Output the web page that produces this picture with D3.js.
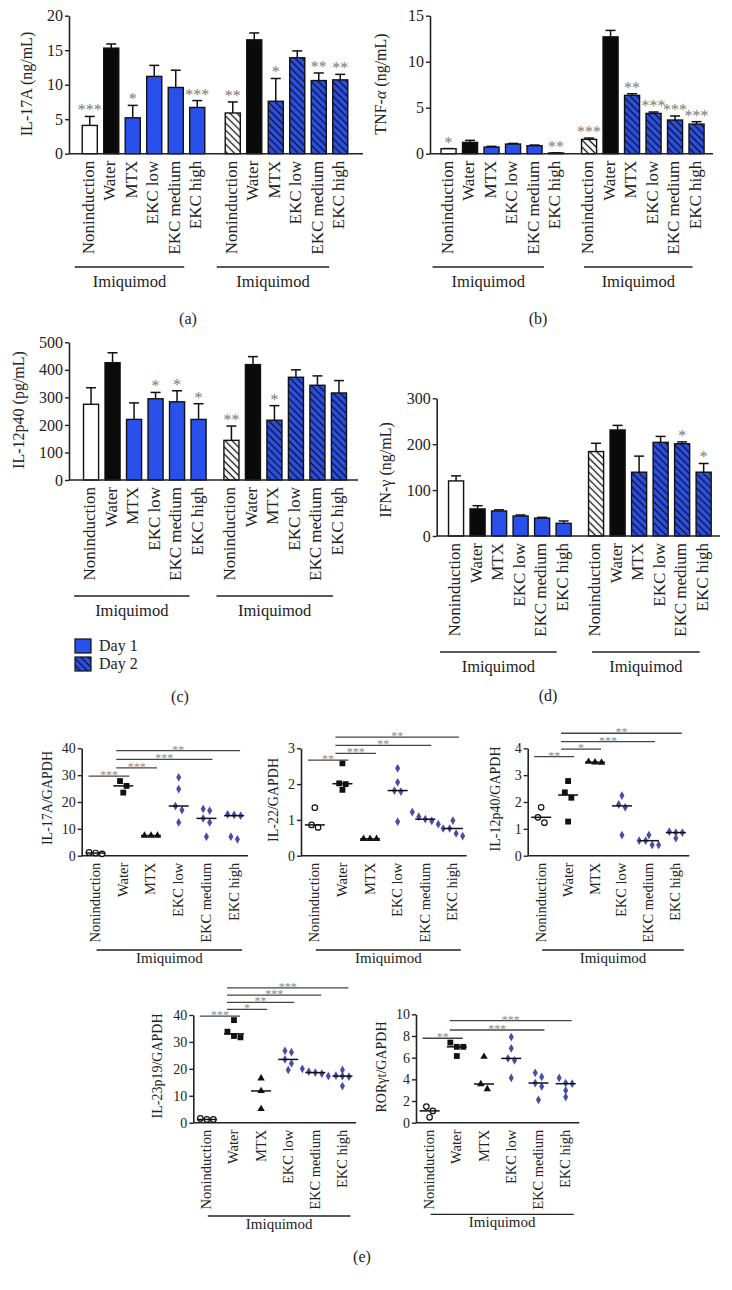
<!DOCTYPE html>
<html><head><meta charset="utf-8">
<script src="https://cdnjs.cloudflare.com/ajax/libs/d3/7.8.5/d3.min.js"></script>
<style>body{margin:0;background:#fff;} svg{display:block;}</style>
</head><body>
<svg id="fig" width="732" height="1290"></svg>
<script>
// ---------------- DATA ----------------
const categories = ["Noninduction", "Water", "MTX", "EKC low", "EKC medium", "EKC high"];
const days = ["Day 1", "Day 2"];
const groupLabel = "Imiquimod";

// (a) IL-17A (ng/mL)
const il17aDay1 = [4.1, 15.3, 5.2, 11.2, 9.6, 6.7];
const il17aDay1Sem = [1.3, 0.6, 1.8, 1.6, 2.5, 1.0];
const il17aDay2 = [5.9, 16.5, 7.6, 13.9, 10.6, 10.7];
const il17aDay2Sem = [1.6, 1.0, 3.3, 1.0, 1.1, 0.8];
const il17aDay1Stars = ["***", "", "*", "", "", "***"];
const il17aDay2Stars = ["**", "", "*", "", "**", "**"];
const il17aTicks = [0, 5, 10, 15, 20];

// (b) TNF-alpha (ng/mL)
const tnfDay1 = [0.54, 1.23, 0.72, 1.05, 0.87, 0.08];
const tnfDay1Sem = [0.02, 0.22, 0.08, 0.07, 0.07, 0.02];
const tnfDay2 = [1.56, 12.7, 6.34, 4.38, 3.66, 3.22];
const tnfDay2Sem = [0.14, 0.7, 0.18, 0.15, 0.44, 0.26];
const tnfDay1Stars = ["*", "", "", "", "", "**"];
const tnfDay2Stars = ["***", "", "**", "***", "***", "***"];
const tnfTicks = [0, 5, 10, 15];

// (c) IL-12p40 (pg/mL)
const il12Day1 = [275, 426, 220, 295, 284, 220];
const il12Day1Sem = [60, 36, 60, 23, 40, 57];
const il12Day2 = [144, 419, 217, 373, 344, 316];
const il12Day2Sem = [52, 29, 53, 27, 34, 45];
const il12Day1Stars = ["", "", "", "*", "*", "*"];
const il12Day2Stars = ["**", "", "*", "", "", ""];
const il12Ticks = [0, 100, 200, 300, 400, 500];

// (d) IFN-gamma (ng/mL)
const ifnDay1 = [120, 59, 54.5, 43.6, 39, 27.6];
const ifnDay1Sem = [11, 7, 2.5, 2.2, 1.7, 5.1];
const ifnDay2 = [184, 231, 139, 204, 201, 139];
const ifnDay2Sem = [18, 10, 35, 13, 4, 19];
const ifnDay1Stars = ["", "", "", "", "", ""];
const ifnDay2Stars = ["", "", "", "", "*", "*"];
const ifnTicks = [0, 100, 200, 300];

// (e) mRNA / GAPDH, one array of replicate values per category
const il17aGapdh = [[1.2, 1.0, 0.7], [27.8, 26.0, 23.5], [7.5, 7.5, 7.5], [29.2, 24.8, 18.5, 17.0, 12.4], [17.4, 16.8, 13.9, 12.4, 7.1], [15.4, 15.2, 14.9, 7.1, 6.1]];
const il17aGapdhTicks = [0, 10, 20, 30, 40];
const il17aSigFrom = ["Noninduction", "Water", "Water", "Water"];
const il17aSigTo = ["Water", "MTX", "EKC medium", "EKC high"];
const il17aSigLevel = [29.6, 32.7, 35.9, 39.1];
const il17aSigText = ["***", "***", "***", "**"];

const il22Gapdh = [[1.34, 0.86, 0.79], [2.58, 2.02, 2.0, 1.84], [0.47, 0.47, 0.47], [2.44, 2.05, 1.82, 1.79, 0.95], [1.22, 1.09, 1.02, 0.97, 0.88], [0.98, 0.76, 0.76, 0.62, 0.55]];
const il22GapdhTicks = [0, 1, 2, 3];
const il22SigFrom = ["Noninduction", "Water", "Water", "Water"];
const il22SigTo = ["Water", "MTX", "EKC medium", "EKC high"];
const il22SigLevel = [2.67, 2.86, 3.08, 3.31];
const il22SigText = ["**", "***", "**", "**"];

const il12Gapdh = [[1.8, 1.43, 1.23], [2.78, 2.36, 2.16, 1.27], [3.5, 3.48, 3.47], [2.24, 1.91, 1.8, 0.77], [0.77, 0.56, 0.56, 0.4, 0.4], [0.9, 0.86, 0.86, 0.65]];
const il12GapdhTicks = [0, 1, 2, 3, 4];
const il12SigFrom = ["Noninduction", "Water", "Water", "Water"];
const il12SigTo = ["Water", "MTX", "EKC medium", "EKC high"];
const il12SigLevel = [3.69, 3.97, 4.25, 4.56];
const il12SigText = ["**", "*", "***", "**"];

const il23Gapdh = [[1.6, 1.2, 1.2], [38.1, 33.8, 32.2, 31.7], [16.5, 11.8, 5.1], [26.7, 26.2, 23.5, 22.0, 19.6], [20.0, 19.0, 18.6, 18.2, 17.3], [19.6, 17.5, 17.3, 17.1, 13.6]];
const il23GapdhTicks = [0, 10, 20, 30, 40];
const il23SigFrom = ["Noninduction", "Water", "Water", "Water", "Water"];
const il23SigTo = ["Water", "MTX", "EKC low", "EKC medium", "EKC high"];
const il23SigLevel = [39.6, 42.1, 44.7, 47.4, 50.1];
const il23SigText = ["***", "*", "**", "***", "***"];

const rorGapdh = [[1.49, 1.09, 0.5], [7.39, 7.0, 7.0, 6.15], [6.09, 3.57, 3.1], [7.9, 6.86, 5.93, 5.75, 4.13], [4.6, 4.22, 3.66, 3.35, 2.11], [4.13, 3.66, 3.6, 2.98, 2.36]];
const rorGapdhTicks = [0, 2, 4, 6, 8, 10];
const rorSigFrom = ["Noninduction", "Water", "Water"];
const rorSigTo = ["Water", "EKC medium", "EKC high"];
const rorSigLevel = [7.79, 8.55, 9.41];
const rorSigText = ["**", "***", "***"];

// ---------------- STYLE ----------------
const SERIF = "'Liberation Serif','Times New Roman',serif";
const BLUE = "#2a50ec";
const DIAMOND = "#4a4ca6";
const STAR = "#7a7a7a";
const fmt = d3.format("~g");

const svg = d3.select("#fig");
svg.append("rect").attr("width", 732).attr("height", 1290).attr("fill", "#fff");
const defs = svg.append("defs");
function hatch(id, bg) {
  const p = defs.append("pattern").attr("id", id).attr("patternUnits", "userSpaceOnUse")
    .attr("width", 5).attr("height", 5).attr("patternTransform", "rotate(-45)");
  p.append("rect").attr("width", 5).attr("height", 5).attr("fill", bg);
  p.append("line").attr("x1", 2.5).attr("x2", 2.5).attr("y1", -1).attr("y2", 6)
    .attr("stroke", "#111").attr("stroke-width", 1.3);
}
hatch("hatchBlue", BLUE);
hatch("hatchWhite", "#fff");

function barFill(dayIndex, cat) {
  if (cat === "Water") return "#0a0a0a";
  if (cat === "Noninduction") return dayIndex === 0 ? "#fff" : "url(#hatchWhite)";
  return dayIndex === 0 ? BLUE : "url(#hatchBlue)";
}

function styleAxis(ax, size) {
  ax.attr("font-family", SERIF).attr("font-size", size);
  ax.select(".domain").attr("stroke", "#222").attr("stroke-width", 1.6);
  ax.selectAll(".tick line").attr("stroke", "#222").attr("stroke-width", 1.4);
  ax.selectAll(".tick text").attr("fill", "#222");
}

function yLabel(parts, x, y, size) {
  const t = svg.append("text").attr("transform", `translate(${x},${y}) rotate(-90)`)
    .attr("text-anchor", "middle").attr("font-family", SERIF).attr("font-size", size).attr("fill", "#222");
  parts.forEach(p => t.append("tspan").text(p.t).attr("font-style", p.i ? "italic" : null));
}

function panelLetter(txt, x, y) {
  svg.append("text").attr("x", x).attr("y", y).attr("text-anchor", "middle")
    .attr("font-family", SERIF).attr("font-size", 16).attr("fill", "#222").text(txt);
}

function bracket(x1, x2, yLine, yText, size) {
  svg.append("line").attr("x1", x1).attr("x2", x2).attr("y1", yLine).attr("y2", yLine)
    .attr("stroke", "#222").attr("stroke-width", 1.3);
  svg.append("text").attr("x", (x1 + x2) / 2).attr("y", yText).attr("text-anchor", "middle")
    .attr("font-family", SERIF).attr("font-size", size).attr("fill", "#222").text(groupLabel);
}

// ---------------- BAR PANELS ----------------
function drawBarPanel(cfg) {
  const g = svg.append("g");
  const y = d3.scaleLinear().domain([0, cfg.yMax]).range([cfg.y0, cfg.yTop]);
  const outer = d3.scaleBand().domain(days).range([cfg.axisX + cfg.padL, cfg.axisEnd - cfg.padR])
    .paddingInner(cfg.gap).paddingOuter(0);
  const inner = d3.scaleBand().domain(categories).range([0, outer.bandwidth()])
    .paddingInner(0.3).paddingOuter(0.15);
  const w = inner.bandwidth();
  const cx = (day, cat) => outer(day) + inner(cat) + w / 2;

  days.forEach((day, di) => {
    const vals = cfg.values[di], sems = cfg.sems[di], stars = cfg.stars[di];
    categories.forEach((cat, ci) => {
      const c = cx(day, cat);
      const top = y(vals[ci]);
      const et = y(vals[ci] + sems[ci]);
      g.append("line").attr("x1", c).attr("x2", c).attr("y1", top).attr("y2", et)
        .attr("stroke", "#111").attr("stroke-width", 1.5);
      g.append("line").attr("x1", c - 5).attr("x2", c + 5).attr("y1", et).attr("y2", et)
        .attr("stroke", "#111").attr("stroke-width", 1.5);
      g.append("rect").attr("x", c - w / 2).attr("y", top).attr("width", w).attr("height", cfg.y0 - top)
        .attr("fill", barFill(di, cat)).attr("stroke", "#111").attr("stroke-width", 1.4);
      if (stars[ci]) {
        g.append("text").attr("x", c).attr("y", et - 1).attr("text-anchor", "middle")
          .attr("font-family", SERIF).attr("font-size", 16).attr("fill", STAR).text(stars[ci]);
      }
      g.append("text").attr("transform", `translate(${c + 4},${cfg.y0 + 7}) rotate(-90)`)
        .attr("text-anchor", "end").attr("font-family", SERIF).attr("font-size", 17)
        .attr("fill", "#222").text(cat);
    });
    const off = cfg.bracketOff[di];
    bracket(cx(day, categories[0]) + off[0], cx(day, categories[5]) + off[1], cfg.bracketY, cfg.bracketY + 20, 16.5);
  });

  const ax = g.append("g").attr("transform", `translate(${cfg.axisX},0)`)
    .call(d3.axisLeft(y).tickValues(cfg.ticks).tickFormat(fmt).tickSize(4).tickSizeOuter(0).tickPadding(2));
  styleAxis(ax, 16);
  g.append("line").attr("x1", cfg.axisX).attr("x2", cfg.axisEnd).attr("y1", cfg.y0).attr("y2", cfg.y0)
    .attr("stroke", "#222").attr("stroke-width", 1.6);
}

drawBarPanel({
  values: [il17aDay1, il17aDay2], sems: [il17aDay1Sem, il17aDay2Sem], stars: [il17aDay1Stars, il17aDay2Stars],
  yMax: 20, ticks: il17aTicks, y0: 153.7, yTop: 15.7, axisX: 69, axisEnd: 363, padL: 10, padR: 12, gap: 0.098,
  bracketY: 267, bracketOff: [[-15, -13], [-16, -11]]
});
yLabel([{t: "IL-17A (ng/mL)"}], 32, 84, 16);
panelLetter("(a)", 188, 324);

drawBarPanel({
  values: [tnfDay1, tnfDay2], sems: [tnfDay1Sem, tnfDay2Sem], stars: [tnfDay1Stars, tnfDay2Stars],
  yMax: 15, ticks: tnfTicks, y0: 153.7, yTop: 15.7, axisX: 430, axisEnd: 713, padL: 7.8, padR: 5.7, gap: 0.082,
  bracketY: 267, bracketOff: [[-16, -12], [-5, -4]]
});
yLabel([{t: "TNF-"}, {t: "α", i: true}, {t: " (ng/mL)"}], 386, 84, 16);
panelLetter("(b)", 538, 324);

drawBarPanel({
  values: [il12Day1, il12Day2], sems: [il12Day1Sem, il12Day2Sem], stars: [il12Day1Stars, il12Day2Stars],
  yMax: 500, ticks: il12Ticks, y0: 480, yTop: 342.3, axisX: 69, axisEnd: 358, padL: 11.3, padR: 8.3, gap: 0.081,
  bracketY: 596, bracketOff: [[-17, -9], [-15, -6]]
});
yLabel([{t: "IL-12p40 (pg/mL)"}], 24, 410, 16);
panelLetter("(c)", 180, 702);

drawBarPanel({
  values: [ifnDay1, ifnDay2], sems: [ifnDay1Sem, ifnDay2Sem], stars: [ifnDay1Stars, ifnDay2Stars],
  yMax: 300, ticks: ifnTicks, y0: 536, yTop: 398.3, axisX: 436.7, axisEnd: 720, padL: 8.6, padR: 5.6, gap: 0.078,
  bracketY: 652, bracketOff: [[-16, -7], [-4, -4]]
});
yLabel([{t: "IFN-γ (ng/mL)"}], 391, 470, 16);
panelLetter("(d)", 548, 701);

// legend
days.forEach((d, i) => {
  svg.append("rect").attr("x", 75).attr("y", 639 + i * 18).attr("width", 16).attr("height", 14)
    .attr("fill", i === 0 ? BLUE : "url(#hatchBlue)").attr("stroke", "#111").attr("stroke-width", 1.2);
  svg.append("text").attr("x", 99).attr("y", 651 + i * 18).attr("font-family", SERIF)
    .attr("font-size", 16).attr("fill", "#222").text(d);
});

// ---------------- SCATTER PANELS ----------------
const symbolFor = {
  "Noninduction": {type: d3.symbolCircle, size: 24, fill: "#fff", stroke: "#111"},
  "Water": {type: d3.symbolSquare, size: 34, fill: "#111", stroke: null},
  "MTX": {type: d3.symbolTriangle, size: 24, fill: "#111", stroke: null},
  "EKC low": {type: d3.symbolDiamond, size: 22, fill: DIAMOND, stroke: null},
  "EKC medium": {type: d3.symbolDiamond, size: 22, fill: DIAMOND, stroke: null},
  "EKC high": {type: d3.symbolDiamond, size: 22, fill: DIAMOND, stroke: null}
};

function dodge(values, y, thresh, step) {
  const order = values.map((v, i) => ({v, i, py: y(v)})).sort((a, b) => a.py - b.py);
  const offsets = new Array(values.length).fill(0);
  let cluster = [];
  const flush = () => {
    const k = cluster.length;
    cluster.forEach((p, j) => { offsets[p.i] = (j - (k - 1) / 2) * step; });
    cluster = [];
  };
  order.forEach(p => {
    if (cluster.length && p.py - cluster[cluster.length - 1].py >= thresh) flush();
    cluster.push(p);
  });
  flush();
  return offsets;
}

function drawScatterPanel(cfg) {
  const g = svg.append("g");
  const y = d3.scaleLinear().domain([0, cfg.yMax]).range([cfg.y0, cfg.yTop]);
  const x = d3.scalePoint().domain(categories).range([cfg.axisX, cfg.axisEnd]).padding(0.5);

  const ax = g.append("g").attr("transform", `translate(${cfg.axisX},0)`)
    .call(d3.axisLeft(y).tickValues(cfg.ticks).tickFormat(fmt).tickSize(4).tickSizeOuter(0).tickPadding(2));
  styleAxis(ax, 14);
  g.append("line").attr("x1", cfg.axisX).attr("x2", cfg.axisEnd).attr("y1", cfg.y0).attr("y2", cfg.y0)
    .attr("stroke", "#222").attr("stroke-width", 1.6);

  categories.forEach((cat, ci) => {
    const vals = cfg.values[ci];
    const s = symbolFor[cat];
    const offs = dodge(vals, y, 5.5, 6.5);
    const sym = d3.symbol().type(s.type).size(s.size);
    vals.forEach((v, k) => {
      g.append("path").attr("d", sym())
        .attr("transform", `translate(${x(cat) + offs[k]},${y(v)})`)
        .attr("fill", s.fill).attr("stroke", s.stroke || "none").attr("stroke-width", 1.2);
    });
    const med = d3.median(vals);
    g.append("line").attr("x1", x(cat) - 10).attr("x2", x(cat) + 10).attr("y1", y(med)).attr("y2", y(med))
      .attr("stroke", "#111").attr("stroke-width", 1.5);
    g.append("text").attr("transform", `translate(${x(cat) + 4.5},${cfg.y0 + 7}) rotate(-90)`)
      .attr("text-anchor", "end").attr("font-family", SERIF).attr("font-size", 14.5)
      .attr("fill", "#222").text(cat);
  });

  cfg.sigFrom.forEach((from, i) => {
    const x1 = x(from) - 7, x2 = x(cfg.sigTo[i]) + 6, yl = y(cfg.sigLevel[i]);
    g.append("line").attr("x1", x1).attr("x2", x2).attr("y1", yl).attr("y2", yl)
      .attr("stroke", "#444").attr("stroke-width", 1.3);
    g.append("text").attr("x", (x1 + x2) / 2).attr("y", yl + 3).attr("text-anchor", "middle")
      .attr("font-family", SERIF).attr("font-size", 12).attr("fill", "#8a8a8a").text(cfg.sigText[i]);
  });

  bracket(x(categories[0]) + 1, x(categories[5]) + 8, cfg.bracketY, cfg.bracketY + 13, 15);
}

drawScatterPanel({
  values: il17aGapdh, ticks: il17aGapdhTicks, yMax: 40, y0: 855.7, yTop: 748.3, axisX: 81.7, axisEnd: 248,
  sigFrom: il17aSigFrom, sigTo: il17aSigTo, sigLevel: il17aSigLevel, sigText: il17aSigText, bracketY: 950
});
yLabel([{t: "IL-17A/GAPDH"}], 51.5, 798, 14);

drawScatterPanel({
  values: il22Gapdh, ticks: il22GapdhTicks, yMax: 3, y0: 855.7, yTop: 748.3, axisX: 301, axisEnd: 466.7,
  sigFrom: il22SigFrom, sigTo: il22SigTo, sigLevel: il22SigLevel, sigText: il22SigText, bracketY: 950
});
yLabel([{t: "IL-22/GAPDH"}], 277.5, 800, 14);

drawScatterPanel({
  values: il12Gapdh, ticks: il12GapdhTicks, yMax: 4, y0: 855.7, yTop: 748.3, axisX: 527.7, axisEnd: 689.3,
  sigFrom: il12SigFrom, sigTo: il12SigTo, sigLevel: il12SigLevel, sigText: il12SigText, bracketY: 950
});
yLabel([{t: "IL-12p40/GAPDH"}], 500, 799, 14);

drawScatterPanel({
  values: il23Gapdh, ticks: il23GapdhTicks, yMax: 40, y0: 1122.7, yTop: 1015, axisX: 193.3, axisEnd: 356,
  sigFrom: il23SigFrom, sigTo: il23SigTo, sigLevel: il23SigLevel, sigText: il23SigText, bracketY: 1216
});
yLabel([{t: "IL-23p19/GAPDH"}], 161.5, 1066, 14);

drawScatterPanel({
  values: rorGapdh, ticks: rorGapdhTicks, yMax: 10, y0: 1122.7, yTop: 1014.3, axisX: 416, axisEnd: 579.3,
  sigFrom: rorSigFrom, sigTo: rorSigTo, sigLevel: rorSigLevel, sigText: rorSigText, bracketY: 1214.3
});
yLabel([{t: "RORγt/GAPDH"}], 385.5, 1067, 14);

panelLetter("(e)", 362, 1262);
</script>
</body></html>
